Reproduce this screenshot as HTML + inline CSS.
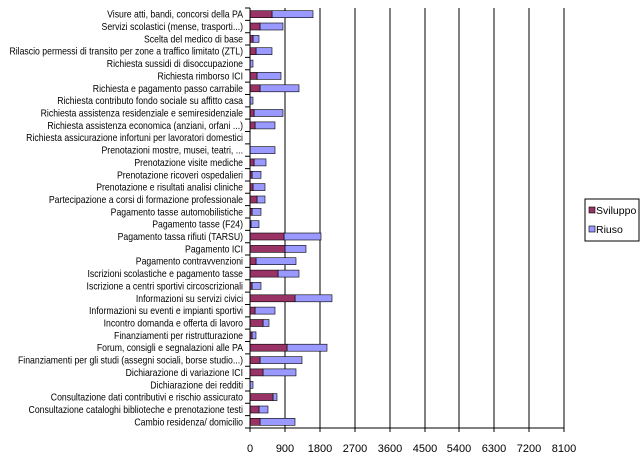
<!DOCTYPE html>
<html><head><meta charset="utf-8"><style>html,body{margin:0;padding:0;background:#fff}svg{display:block}</style></head>
<body>
<svg width="642" height="454" xmlns="http://www.w3.org/2000/svg" font-family="Liberation Sans, sans-serif">
<rect width="642" height="454" fill="#fff"/>
<g stroke="#000" stroke-width="1">
<line x1="285" y1="8" x2="285" y2="428"/><line x1="320" y1="8" x2="320" y2="428"/><line x1="355" y1="8" x2="355" y2="428"/><line x1="390" y1="8" x2="390" y2="428"/><line x1="425" y1="8" x2="425" y2="428"/><line x1="459" y1="8" x2="459" y2="428"/><line x1="494" y1="8" x2="494" y2="428"/><line x1="529" y1="8" x2="529" y2="428"/><line x1="564" y1="8" x2="564" y2="428"/>
</g>
<g stroke="#000" stroke-width="0.6">
<rect x="272" y="10.7" width="41" height="7" fill="#9999ff"/><rect x="250" y="10.7" width="22" height="7" fill="#993366"/>
<rect x="260" y="23" width="23" height="7" fill="#9999ff"/><rect x="250" y="23" width="10" height="7" fill="#993366"/>
<rect x="253" y="35.4" width="6" height="7" fill="#9999ff"/><rect x="250" y="35.4" width="3" height="7" fill="#993366"/>
<rect x="256" y="47.7" width="16" height="7" fill="#9999ff"/><rect x="250" y="47.7" width="6" height="7" fill="#993366"/>
<rect x="250" y="60.1" width="3" height="7" fill="#9999ff"/>
<rect x="257" y="72.4" width="24" height="7" fill="#9999ff"/><rect x="250" y="72.4" width="7" height="7" fill="#993366"/>
<rect x="260" y="84.8" width="39" height="7" fill="#9999ff"/><rect x="250" y="84.8" width="10" height="7" fill="#993366"/>
<rect x="250" y="97.1" width="3" height="7" fill="#9999ff"/>
<rect x="254" y="109.5" width="29" height="7" fill="#9999ff"/><rect x="250" y="109.5" width="4" height="7" fill="#993366"/>
<rect x="255" y="121.9" width="20" height="7" fill="#9999ff"/><rect x="250" y="121.9" width="5" height="7" fill="#993366"/>
<rect x="250" y="146.6" width="25" height="7" fill="#9999ff"/>
<rect x="254" y="158.9" width="12" height="7" fill="#9999ff"/><rect x="250" y="158.9" width="4" height="7" fill="#993366"/>
<rect x="252" y="171.3" width="9" height="7" fill="#9999ff"/><rect x="250" y="171.3" width="2" height="7" fill="#993366"/>
<rect x="253" y="183.6" width="12" height="7" fill="#9999ff"/><rect x="250" y="183.6" width="3" height="7" fill="#993366"/>
<rect x="257" y="196" width="8" height="7" fill="#9999ff"/><rect x="250" y="196" width="7" height="7" fill="#993366"/>
<rect x="252" y="208.3" width="9" height="7" fill="#9999ff"/><rect x="250" y="208.3" width="2" height="7" fill="#993366"/>
<rect x="251" y="220.7" width="8" height="7" fill="#9999ff"/><rect x="250" y="220.7" width="1" height="7" fill="#993366"/>
<rect x="284" y="233" width="37" height="7" fill="#9999ff"/><rect x="250" y="233" width="34" height="7" fill="#993366"/>
<rect x="285" y="245.4" width="21" height="7" fill="#9999ff"/><rect x="250" y="245.4" width="35" height="7" fill="#993366"/>
<rect x="256" y="257.7" width="40" height="7" fill="#9999ff"/><rect x="250" y="257.7" width="6" height="7" fill="#993366"/>
<rect x="278" y="270.1" width="21" height="7" fill="#9999ff"/><rect x="250" y="270.1" width="28" height="7" fill="#993366"/>
<rect x="252" y="282.4" width="9" height="7" fill="#9999ff"/><rect x="250" y="282.4" width="2" height="7" fill="#993366"/>
<rect x="295" y="294.8" width="37" height="7" fill="#9999ff"/><rect x="250" y="294.8" width="45" height="7" fill="#993366"/>
<rect x="255" y="307.1" width="20" height="7" fill="#9999ff"/><rect x="250" y="307.1" width="5" height="7" fill="#993366"/>
<rect x="263" y="319.5" width="6" height="7" fill="#9999ff"/><rect x="250" y="319.5" width="13" height="7" fill="#993366"/>
<rect x="252" y="331.9" width="4" height="7" fill="#9999ff"/><rect x="250" y="331.9" width="2" height="7" fill="#993366"/>
<rect x="287" y="344.2" width="40" height="7" fill="#9999ff"/><rect x="250" y="344.2" width="37" height="7" fill="#993366"/>
<rect x="260" y="356.6" width="42" height="7" fill="#9999ff"/><rect x="250" y="356.6" width="10" height="7" fill="#993366"/>
<rect x="263" y="368.9" width="33" height="7" fill="#9999ff"/><rect x="250" y="368.9" width="13" height="7" fill="#993366"/>
<rect x="250" y="381.3" width="3" height="7" fill="#9999ff"/>
<rect x="273" y="393.6" width="4" height="7" fill="#9999ff"/><rect x="250" y="393.6" width="23" height="7" fill="#993366"/>
<rect x="259" y="406" width="9" height="7" fill="#9999ff"/><rect x="250" y="406" width="9" height="7" fill="#993366"/>
<rect x="260" y="418.3" width="35" height="7" fill="#9999ff"/><rect x="250" y="418.3" width="10" height="7" fill="#993366"/>
</g>
<line x1="250" y1="8" x2="250" y2="428" stroke="#000"/>
<line x1="250" y1="428" x2="564" y2="428" stroke="#000"/>
<line x1="247.5" y1="7.5" x2="247.5" y2="429" stroke="#000" stroke-width="5" stroke-dasharray="1 11.353"/>
<g stroke="#000">
<line x1="250" y1="428" x2="250" y2="432"/><line x1="285" y1="428" x2="285" y2="432"/><line x1="320" y1="428" x2="320" y2="432"/><line x1="355" y1="428" x2="355" y2="432"/><line x1="390" y1="428" x2="390" y2="432"/><line x1="425" y1="428" x2="425" y2="432"/><line x1="459" y1="428" x2="459" y2="432"/><line x1="494" y1="428" x2="494" y2="432"/><line x1="529" y1="428" x2="529" y2="432"/><line x1="564" y1="428" x2="564" y2="432"/>
</g>
<g transform="translate(243,0) scale(0.87,1)" font-size="10" text-anchor="end" fill="#000">
<text x="0" y="17.7">Visure atti, bandi, concorsi della PA</text>
<text x="0" y="30">Servizi scolastici (mense, trasporti...)</text>
<text x="0" y="42.4">Scelta del medico di base</text>
<text x="0" y="54.7">Rilascio permessi di transito per zone a traffico limitato (ZTL)</text>
<text x="0" y="67.1">Richiesta sussidi di disoccupazione</text>
<text x="0" y="79.4">Richiesta rimborso ICI</text>
<text x="0" y="91.8">Richiesta e pagamento passo carrabile</text>
<text x="0" y="104.1">Richiesta contributo fondo sociale su affitto casa</text>
<text x="0" y="116.5">Richiesta assistenza residenziale e semiresidenziale</text>
<text x="0" y="128.9">Richiesta assistenza economica (anziani, orfani ...)</text>
<text x="0" y="141.2">Richiesta assicurazione infortuni per lavoratori domestici</text>
<text x="0" y="153.6">Prenotazioni mostre, musei, teatri, ...</text>
<text x="0" y="165.9">Prenotazione visite mediche</text>
<text x="0" y="178.3">Prenotazione ricoveri ospedalieri</text>
<text x="0" y="190.6">Prenotazione e risultati analisi cliniche</text>
<text x="0" y="203">Partecipazione a corsi di formazione professionale</text>
<text x="0" y="215.3">Pagamento tasse automobilistiche</text>
<text x="0" y="227.7">Pagamento tasse (F24)</text>
<text x="0" y="240">Pagamento tassa rifiuti (TARSU)</text>
<text x="0" y="252.4">Pagamento ICI</text>
<text x="0" y="264.7">Pagamento contravvenzioni</text>
<text x="0" y="277.1">Iscrizioni scolastiche e pagamento tasse</text>
<text x="0" y="289.4">Iscrizione a centri sportivi circoscrizionali</text>
<text x="0" y="301.8">Informazioni su servizi civici</text>
<text x="0" y="314.1">Informazioni su eventi e impianti sportivi</text>
<text x="0" y="326.5">Incontro domanda e offerta di lavoro</text>
<text x="0" y="338.9">Finanziamenti per ristrutturazione</text>
<text x="0" y="351.2">Forum, consigli e segnalazioni alle PA</text>
<text x="0" y="363.6">Finanziamenti per gli studi (assegni sociali, borse studio...)</text>
<text x="0" y="375.9">Dichiarazione di variazione ICI</text>
<text x="0" y="388.3">Dichiarazione dei redditi</text>
<text x="0" y="400.6">Consultazione dati contributivi e rischio assicurato</text>
<text x="0" y="413">Consultazione cataloghi biblioteche e prenotazione testi</text>
<text x="0" y="425.3">Cambio residenza/ domicilio</text>
</g>
<g font-size="11" text-anchor="middle" fill="#000">
<text x="250" y="452">0</text><text x="285" y="452">900</text><text x="320" y="452">1800</text><text x="355" y="452">2700</text><text x="390" y="452">3600</text><text x="425" y="452">4500</text><text x="459" y="452">5400</text><text x="494" y="452">6300</text><text x="529" y="452">7200</text><text x="564" y="452">8100</text>
</g>
<rect x="585" y="199" width="54" height="42" fill="#fff" stroke="#000"/>
<rect x="589" y="207" width="6" height="6" fill="#993366" stroke="#000" stroke-width="0.6"/>
<text x="596" y="214" font-size="10.5">Sviluppo</text>
<rect x="589" y="226" width="6" height="6" fill="#9999ff" stroke="#000" stroke-width="0.6"/>
<text x="596" y="233" font-size="10.5">Riuso</text>
</svg>
</body></html>
